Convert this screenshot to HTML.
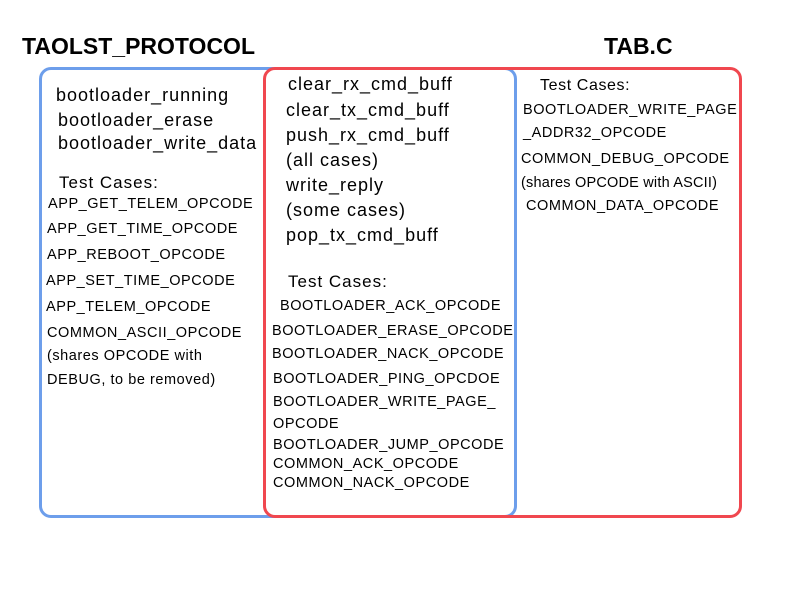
<!DOCTYPE html>
<html><head><meta charset="utf-8"><style>
body{margin:0;width:800px;height:600px;background:#fff;position:relative;overflow:hidden;font-family:"Liberation Sans",sans-serif;color:#000}
.t{position:absolute;white-space:nowrap;line-height:1}
.b{font-size:18px;letter-spacing:1px}
.s{font-size:14.5px;letter-spacing:0.55px}
.h{font-size:23px;font-weight:bold}
.box{position:absolute;border-radius:12px;box-sizing:border-box}
</style></head><body>
<div class="box" style="left:39px;top:67px;width:478px;height:451px;border:3px solid #6d9eeb"></div>
<div class="box" style="left:263px;top:67px;width:479px;height:451px;border:3px solid #f0474f"></div>
<div class="t h" style="left:22px;top:35px">TAOLST_PROTOCOL</div>
<div class="t h" style="left:604px;top:35px">TAB.C</div>

<div class="t b" style="left:56px;top:86px">bootloader_running</div>
<div class="t b" style="left:58px;top:111px">bootloader_erase</div>
<div class="t b" style="left:58px;top:134px">bootloader_write_data</div>
<div class="t b" style="left:59px;top:174px;font-size:17px">Test Cases:</div>
<div class="t s" style="left:48px;top:197px">APP_GET_TELEM_OPCODE</div>
<div class="t s" style="left:47px;top:222px">APP_GET_TIME_OPCODE</div>
<div class="t s" style="left:47px;top:248px">APP_REBOOT_OPCODE</div>
<div class="t s" style="left:46px;top:274px">APP_SET_TIME_OPCODE</div>
<div class="t s" style="left:46px;top:300px">APP_TELEM_OPCODE</div>
<div class="t s" style="left:47px;top:326px">COMMON_ASCII_OPCODE</div>
<div class="t s" style="left:47px;top:349px">(shares OPCODE with</div>
<div class="t s" style="left:47px;top:373px">DEBUG, to be removed)</div>

<div class="t b" style="left:288px;top:75px">clear_rx_cmd_buff</div>
<div class="t b" style="left:286px;top:101px">clear_tx_cmd_buff</div>
<div class="t b" style="left:286px;top:126px">push_rx_cmd_buff</div>
<div class="t b" style="left:286px;top:151px">(all cases)</div>
<div class="t b" style="left:286px;top:176px">write_reply</div>
<div class="t b" style="left:286px;top:201px">(some cases)</div>
<div class="t b" style="left:286px;top:226px">pop_tx_cmd_buff</div>
<div class="t b" style="left:288px;top:273px;font-size:17px">Test Cases:</div>
<div class="t s" style="left:280px;top:299px">BOOTLOADER_ACK_OPCODE</div>
<div class="t s" style="left:272px;top:324px">BOOTLOADER_ERASE_OPCODE</div>
<div class="t s" style="left:272px;top:347px">BOOTLOADER_NACK_OPCODE</div>
<div class="t s" style="left:273px;top:372px">BOOTLOADER_PING_OPCDOE</div>
<div class="t s" style="left:273px;top:395px">BOOTLOADER_WRITE_PAGE_</div>
<div class="t s" style="left:273px;top:417px">OPCODE</div>
<div class="t s" style="left:273px;top:438px">BOOTLOADER_JUMP_OPCODE</div>
<div class="t s" style="left:273px;top:457px">COMMON_ACK_OPCODE</div>
<div class="t s" style="left:273px;top:476px">COMMON_NACK_OPCODE</div>

<div class="t" style="left:540px;top:78px;font-size:16px;letter-spacing:0.6px">Test Cases:</div>
<div class="t s" style="left:523px;top:103px">BOOTLOADER_WRITE_PAGE</div>
<div class="t s" style="left:523px;top:126px">_ADDR32_OPCODE</div>
<div class="t s" style="left:521px;top:152px">COMMON_DEBUG_OPCODE</div>
<div class="t s" style="left:521px;top:176px;letter-spacing:0.2px">(shares OPCODE with ASCII)</div>
<div class="t s" style="left:526px;top:199px">COMMON_DATA_OPCODE</div>
</body></html>
